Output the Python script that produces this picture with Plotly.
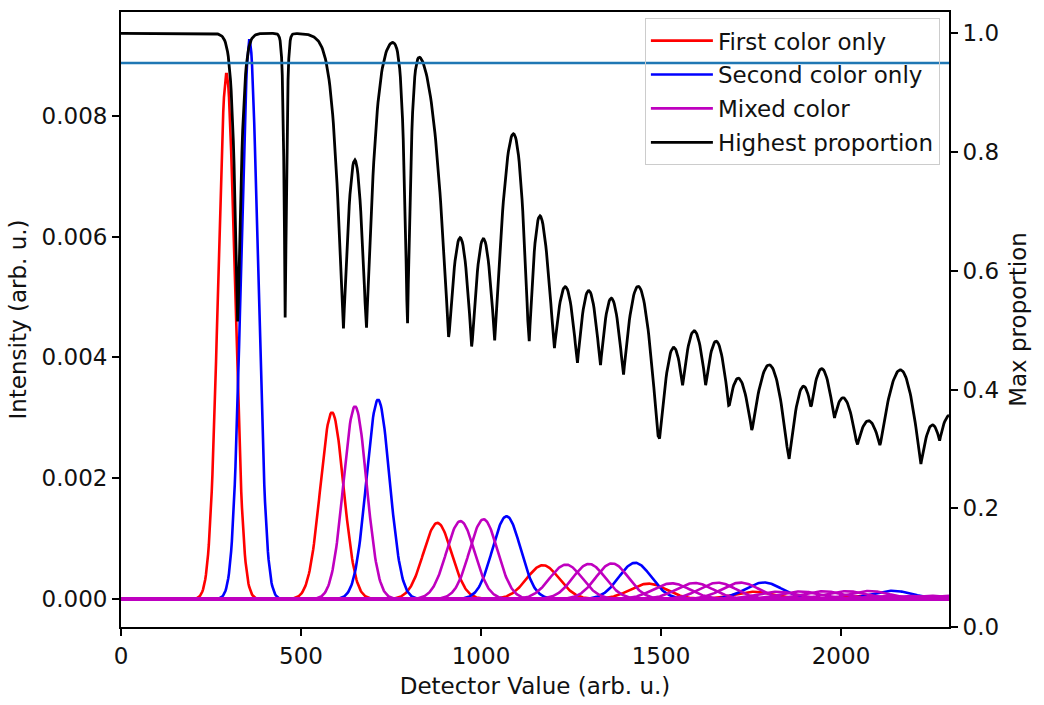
import numpy as np
import plotly.graph_objects as go

# ---- data ------------------------------------------------------------------
# Peak centres per photon-number group (first entry: first colour only,
# last entry: second colour only, entries in between: mixed colour)
group_centers = [
    [293, 357],
    [586, 650, 714],
    [879, 943, 1007, 1071],
    [1172, 1236, 1300, 1364, 1428],
    [1465, 1529, 1593, 1657, 1721, 1785],
    [1758, 1822, 1886, 1950, 2014, 2078, 2142],
    [2051, 2115, 2179, 2243, 2307, 2371, 2435, 2499],
    [2344, 2408, 2472, 2536, 2600, 2664, 2728, 2792, 2856],
]
# Peak heights (Intensity, arb. u.)
group_heights = [
    [0.00870, 0.00926],
    [0.00309, 0.00319, 0.00330],
    [0.00126, 0.00129, 0.00132, 0.00137],
    [0.00056, 0.00057, 0.00058, 0.00059, 0.00060],
    [0.000255, 0.000260, 0.000265, 0.000270, 0.000272, 0.000275],
    [0.000120, 0.000122, 0.000125, 0.000128, 0.000130, 0.000133, 0.000137],
    [0.000050, 0.000051, 0.000052, 0.000053, 0.000054, 0.000055, 0.000056, 0.000058],
    [0.000020, 0.000020, 0.000021, 0.000021, 0.000022, 0.000022, 0.000023, 0.000023, 0.000024],
]
# Peak widths (standard deviation, detector units) per group
group_widths = [23, 32, 39, 45, 51, 56, 60, 64]

threshold = 0.95          # horizontal reference line on the right axis
x_range = [0, 2300]
left_range = [-0.000463, 0.009718]
right_range = [0.0, 1.036]
left_ticks = [0.0, 0.002, 0.004, 0.006, 0.008]
right_ticks = [0.0, 0.2, 0.4, 0.6, 0.8, 1.0]
x_ticks = [0, 500, 1000, 1500, 2000]

RED, BLUE, MAG, BLACK, STEEL = "#FF0000", "#0000FF", "#BF00BF", "#000000", "#1F77B4"

x = np.linspace(x_range[0], x_range[1], 1151)

comps = []  # (kind, curve)
for cs, hs, w in zip(group_centers, group_heights, group_widths):
    for i, (c, h) in enumerate(zip(cs, hs)):
        curve = h * np.exp(-((x - c) ** 2) / (2.0 * w * w))
        if i == 0:
            kind = "first"
        elif i == len(cs) - 1:
            kind = "second"
        else:
            kind = "mixed"
        comps.append((kind, curve))

stack = np.array([c for _, c in comps])
highest = stack.max(axis=0) / stack.sum(axis=0)

fig = go.Figure()
styles = {
    "first": (RED, "First color only"),
    "second": (BLUE, "Second color only"),
    "mixed": (MAG, "Mixed color"),
}
for kind in ["first", "second", "mixed"]:
    color, name = styles[kind]
    shown = False
    for k, curve in comps:
        if k != kind:
            continue
        fig.add_trace(go.Scatter(
            x=x, y=curve, mode="lines", name=name, legendgroup=kind,
            showlegend=not shown, line=dict(color=color, width=2.6),
            yaxis="y", hoverinfo="skip"))
        shown = True

fig.add_trace(go.Scatter(
    x=x, y=highest, mode="lines", name="Highest proportion",
    legendgroup="highest", line=dict(color=BLACK, width=2.8), yaxis="y2"))

fig.add_shape(type="line", xref="x domain", x0=0, x1=1, yref="y2",
              y0=threshold, y1=threshold, line=dict(color=STEEL, width=2.6),
              layer="above")

FONT = dict(family="DejaVu Sans", size=23, color="#111111")
axis_common = dict(showline=True, linecolor="black", linewidth=1.9,
                   ticks="outside", ticklen=7, tickwidth=1.9, tickcolor="black",
                   showgrid=False, zeroline=False, tickfont=FONT)

fig.update_layout(
    width=1044, height=705,
    margin=dict(l=121, r=95, t=10, b=76),
    paper_bgcolor="white", plot_bgcolor="white",
    font=FONT,
    xaxis=dict(range=x_range, tickvals=x_ticks, mirror=True,
               title=dict(text="Detector Value (arb. u.)", font=FONT, standoff=10),
               **axis_common),
    yaxis=dict(range=left_range, tickvals=left_ticks, tickformat=".3f",
               title=dict(text="Intensity (arb. u.)", font=FONT, standoff=9),
               **axis_common),
    yaxis2=dict(range=right_range, tickvals=right_ticks, tickformat=".1f",
                overlaying="y", side="right",
                title=dict(text="Max proportion", font=FONT, standoff=12),
                **axis_common),
    legend=dict(x=0.989, y=0.99, xanchor="right", yanchor="top",
                bgcolor="rgba(0,0,0,0)", bordercolor="#CCCCCC", borderwidth=1,
                font=FONT, traceorder="grouped", tracegroupgap=1, itemwidth=62),
    showlegend=True,
)

fig.write_html("out.html")
